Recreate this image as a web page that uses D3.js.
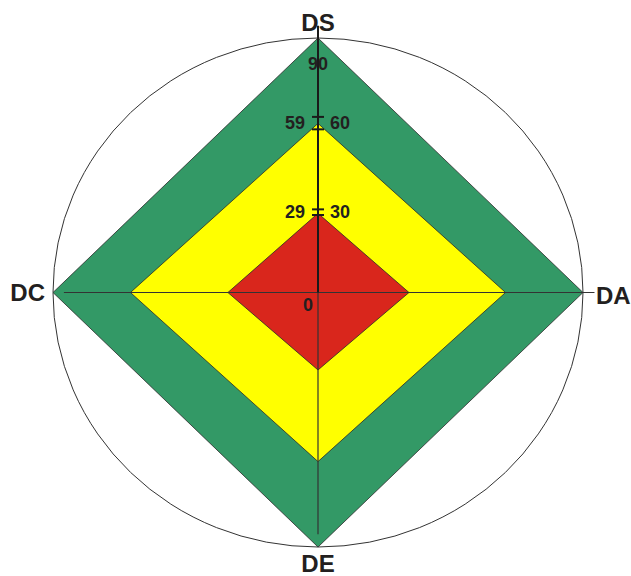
<!DOCTYPE html>
<html>
<head>
<meta charset="utf-8">
<script src="https://cdn.jsdelivr.net/npm/d3@7"></script>
<style>
  body { margin: 0; background: #fff; }
  svg { display: block; font-family: "Liberation Sans", Arial, sans-serif; }
</style>
</head>
<body>
<svg id="chart" width="631" height="576"></svg>
<script>
// axes, clockwise from the top
let axes = ["DS", "DA", "DE", "DC"];
let angles = [0, 90, 180, 270];

// band values on each axis
let greenVals = [90, 90, 90, 90];
let yellowVals = [59.8, 63.7, 59.8, 63.7];
let redVals = [28, 30.9, 27.4, 30.6];

// tick labels on the DS axis: [text, value, side]
let tickLabels = [["90", 90, "mid"], ["59", 60, "left"], ["60", 60, "right"],
                  ["29", 28.6, "left"], ["30", 28.6, "right"], ["0", 0, "zero"]];
let tickMarks = [62.1, 57.7, 29.4, 27.4];

let maxVal = 90;

let chart = d3.select("#chart");
let cx = 318, cy = 292.5;
let g = chart.append("g").attr("transform", "translate(" + cx + "," + cy + ")");

// chart is slightly stretched: separate radial scales for x and y
let rx = d3.scaleLinear().domain([0, maxVal]).range([0, 265]);
let ry = d3.scaleLinear().domain([0, maxVal]).range([0, 254.5]);

function pt(angle, v) {
    let a = angle * Math.PI / 180;
    return [Math.sin(a) * rx(v), -Math.cos(a) * ry(v)];
}

// outer ellipse
g.append("ellipse")
    .attr("cx", 0).attr("cy", 0)
    .attr("rx", rx(maxVal)).attr("ry", ry(maxVal))
    .attr("fill", "none")
    .attr("stroke", "#333")
    .attr("stroke-width", 1);

let line = d3.line().curve(d3.curveLinearClosed);
let bands = [[greenVals, "#339966"], [yellowVals, "#ffff00"], [redVals, "#d9261c"]];

bands.forEach(function(b) {
    g.append("path")
        .attr("d", line(b[0].map(function(v, i) { return pt(angles[i], v); })))
        .attr("fill", b[1])
        .attr("stroke", "#2a2a2a")
        .attr("stroke-width", 0.8);
});

// axis lines (the original has them a little off-centre)
let hLine = [-86.3, 93.9];
let vLine = [94.3, -85.5];
g.append("line")
    .attr("x1", rx(hLine[0])).attr("x2", rx(hLine[1]))
    .attr("y1", 0).attr("y2", 0)
    .attr("stroke", "#333").attr("stroke-width", 1.2);
g.append("line")
    .attr("x1", 0).attr("x2", 0)
    .attr("y1", 0).attr("y2", ry(-vLine[1]))
    .attr("stroke", "#333").attr("stroke-width", 1.2);
g.append("line")
    .attr("x1", 0).attr("x2", 0)
    .attr("y1", 0).attr("y2", -ry(vLine[0]))
    .attr("stroke", "#1a1a1a").attr("stroke-width", 2);

// tick marks
g.selectAll(".tick")
    .data(tickMarks)
    .enter()
    .append("line")
        .attr("x1", -6).attr("x2", 6)
        .attr("y1", function(d) { return -ry(d); })
        .attr("y2", function(d) { return -ry(d); })
        .attr("stroke", "#1a1a1a")
        .attr("stroke-width", 2);

// tick labels
g.selectAll(".tlabel")
    .data(tickLabels)
    .enter()
    .append("text")
        .attr("font-size", "18px")
        .attr("font-weight", "bold")
        .attr("fill", "#231f20")
        .attr("text-anchor", function(d) { return d[2] == "left" || d[2] == "zero" ? "end" : (d[2] == "right" ? "start" : "middle"); })
        .attr("x", function(d) { return d[2] == "left" ? -13 : (d[2] == "right" ? 12 : (d[2] == "zero" ? -5 : 0)); })
        .attr("y", function(d) { return d[2] == "mid" ? -ry(d[1]) + 32 : (d[2] == "zero" ? 18 : -ry(d[1]) + 6.5); })
        .text(function(d) { return d[0]; });

// axis names
let namePos = [
    { x: 0, y: -ry(maxVal) - 7, anchor: "middle" },
    { x: rx(maxVal) + 13, y: 11.5, anchor: "start" },
    { x: 0, y: ry(maxVal) + 25, anchor: "middle" },
    { x: -rx(maxVal) - 8, y: 8.5, anchor: "end" }
];
g.selectAll(".axisname")
    .data(axes)
    .enter()
    .append("text")
        .attr("font-size", "24px")
        .attr("font-weight", "bold")
        .attr("fill", "#231f20")
        .attr("text-anchor", function(d, i) { return namePos[i].anchor; })
        .attr("x", function(d, i) { return namePos[i].x; })
        .attr("y", function(d, i) { return namePos[i].y; })
        .text(function(d) { return d; });
</script>
</body>
</html>
